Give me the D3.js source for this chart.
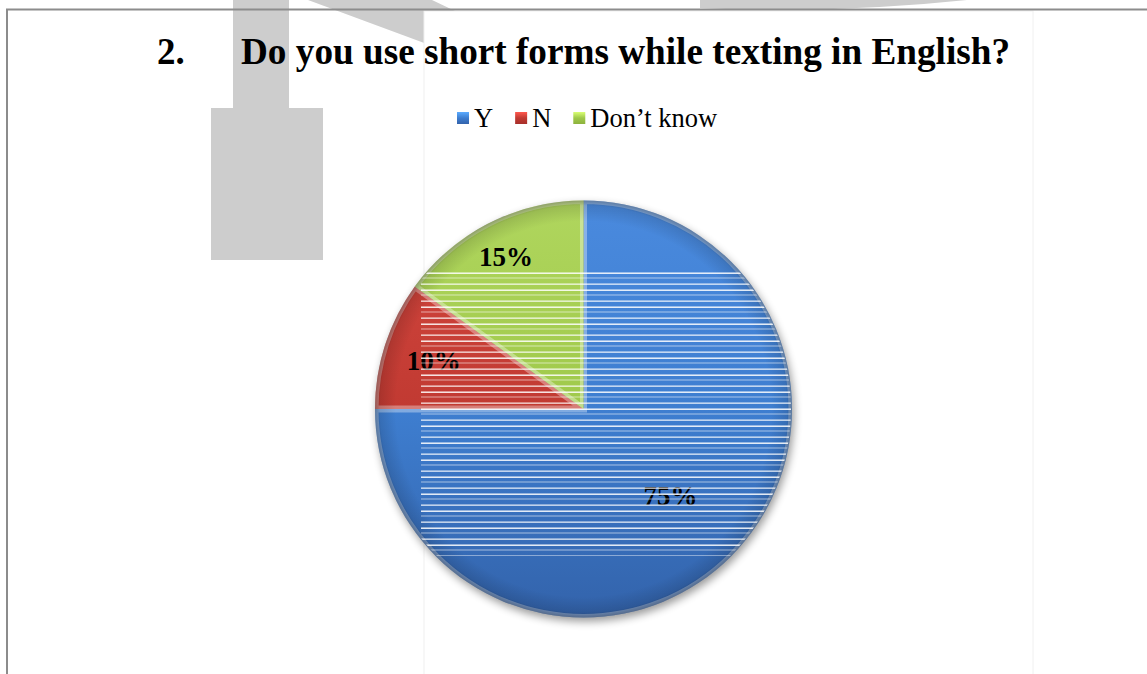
<!DOCTYPE html>
<html>
<head>
<meta charset="utf-8">
<script src="https://cdn.jsdelivr.net/npm/d3@7"></script>
<style>
  html, body { margin: 0; padding: 0; background: #ffffff; }
  svg { display: block; }
</style>
</head>
<body>
<svg id="chart" width="1147" height="674"></svg>
<script>
// Survey question and answers
const questionNumber = "2.";
const questionText = "Do you use short forms while texting in English?";
const categories = ["Y", "N", "Don’t know"];
const values = [75, 10, 15];
const valueLabels = ["75%", "10%", "15%"];

// Slice colours: base, lighter top, darker bottom
const baseColors = ["#3e7ed0", "#c13a32", "#9fc94a"];
const topColors = ["#4a8ade", "#d4473f", "#b0d65e"];
const bottomColors = ["#3363ab", "#a72f2a", "#8db23d"];

// Radial position of each value label, as a share of the radius
const labelRadius = [0.59, 0.755, 0.82];

const W = 1147, H = 674;
const svg = d3.select("#chart");
const defs = svg.append("defs");
const serif = "'Liberation Serif', 'Times New Roman', Times, serif";

// ---- grey logo shapes printed behind the page ----
const logo = svg.append("g").attr("fill", "#cdcdcd");
logo.append("rect").attr("x", 233).attr("y", 0).attr("width", 56).attr("height", 108);
logo.append("rect").attr("x", 211).attr("y", 108).attr("width", 112).attr("height", 152);
logo.append("path").attr("d", "M308,0 L432,0 L600,80 L524,80 Z");
logo.append("path").attr("d", "M700,0 L700,8 Q835,14 967,0 Z");

// chart picture area (white, faint frame)
svg.append("rect")
  .attr("x", 424).attr("y", 11).attr("width", 609).attr("height", 680)
  .attr("fill", "#ffffff").attr("stroke", "#f0f0f0").attr("stroke-width", 1);

// page frame lines
svg.append("line").attr("x1", 6).attr("x2", W).attr("y1", 9.5).attr("y2", 9.5)
  .attr("stroke", "#8c8c8c").attr("stroke-width", 2);
svg.append("line").attr("x1", 7).attr("x2", 7).attr("y1", 9).attr("y2", H)
  .attr("stroke", "#8c8c8c").attr("stroke-width", 2);

// ---- title ----
svg.append("text")
  .attr("x", 157).attr("y", 64)
  .attr("font-family", serif).attr("font-weight", "bold").attr("font-size", 37)
  .attr("fill", "#000").text(questionNumber);
svg.append("text")
  .attr("x", 241).attr("y", 64)
  .attr("font-family", serif).attr("font-weight", "bold").attr("font-size", 37)
  .attr("textLength", 769).attr("lengthAdjust", "spacingAndGlyphs")
  .attr("fill", "#000").text(questionText);

// ---- pie geometry ----
const cx = 583.5, cy = 409, R = 208.5;

// slice gradients (in the pie group's own coordinates)
categories.forEach((c, i) => {
  const g = defs.append("linearGradient")
    .attr("id", "grad" + i)
    .attr("gradientUnits", "userSpaceOnUse")
    .attr("x1", 0).attr("y1", -R).attr("x2", 0).attr("y2", R);
  g.append("stop").attr("offset", 0).attr("stop-color", topColors[i]);
  g.append("stop").attr("offset", 0.5).attr("stop-color", baseColors[i]);
  g.append("stop").attr("offset", 1).attr("stop-color", bottomColors[i]);

  const lg = defs.append("linearGradient")
    .attr("id", "lgrad" + i)
    .attr("x1", 0).attr("y1", 0).attr("x2", 0).attr("y2", 1);
  lg.append("stop").attr("offset", 0).attr("stop-color", d3.color(topColors[i]).brighter(0.6));
  lg.append("stop").attr("offset", 0.5).attr("stop-color", baseColors[i]);
  lg.append("stop").attr("offset", 1).attr("stop-color", bottomColors[i]);
});

const rim = defs.append("radialGradient")
  .attr("id", "rim").attr("gradientUnits", "userSpaceOnUse")
  .attr("cx", 0).attr("cy", 0).attr("r", R);
rim.append("stop").attr("offset", 0.9).attr("stop-color", "#000").attr("stop-opacity", 0);
rim.append("stop").attr("offset", 0.975).attr("stop-color", "#000").attr("stop-opacity", 0.12);
rim.append("stop").attr("offset", 1).attr("stop-color", "#000").attr("stop-opacity", 0.3);

const shadow = defs.append("filter").attr("id", "shadow")
  .attr("x", "-20%").attr("y", "-20%").attr("width", "140%").attr("height", "140%");
shadow.append("feGaussianBlur").attr("in", "SourceAlpha").attr("stdDeviation", 4).attr("result", "b");
shadow.append("feOffset").attr("in", "b").attr("dx", 2).attr("dy", 4).attr("result", "o");
shadow.append("feComponentTransfer").attr("in", "o")
  .append("feFuncA").attr("type", "linear").attr("slope", 0.4);

// ---- pie ----
const pie = d3.pie().sort(null).value(d => d)
  .startAngle(0).endAngle(2 * Math.PI);
const arcs = pie(values);
const arc = d3.arc().innerRadius(0).outerRadius(R);

const pg = svg.append("g").attr("transform", `translate(${cx},${cy})`);

pg.append("circle").attr("r", R).attr("fill", "#000").attr("filter", "url(#shadow)");

arcs.forEach((a, i) => {
  defs.append("clipPath").attr("id", "clip" + i)
    .append("path").attr("d", arc(a));
});

const slices = pg.selectAll("g.slice").data(arcs).join("g").attr("class", "slice");

slices.append("path")
  .attr("d", arc)
  .attr("fill", (d, i) => `url(#grad${i})`);

// inner bevel highlight along each slice edge
slices.append("path")
  .attr("d", arc)
  .attr("fill", "none")
  .attr("stroke", "#ffffff")
  .attr("stroke-opacity", 0.35)
  .attr("stroke-width", 7)
  .attr("clip-path", (d, i) => `url(#clip${i})`);

// darker outer rim
pg.append("circle").attr("r", R).attr("fill", "url(#rim)");

// ---- value labels ----
const labelG = pg.append("g");
arcs.forEach((a, i) => {
  const la = d3.arc().innerRadius(0).outerRadius(R * labelRadius[i] * 2);
  const [x, y] = la.centroid(a);
  labelG.append("text")
    .attr("x", x).attr("y", y)
    .attr("text-anchor", "middle")
    .attr("dy", "0.35em")
    .attr("font-family", serif).attr("font-weight", "bold").attr("font-size", 27)
    .attr("fill", "#000")
    .text(valueLabels[i]);
});

// ---- horizontal banding across the picture ----
const band = defs.append("pattern").attr("id", "bands")
  .attr("patternUnits", "userSpaceOnUse")
  .attr("x", 0).attr("y", 272 - cy).attr("width", 20).attr("height", 17);
[[0.5, 0.95, 1.4], [5.5, 0.55, 1], [11.5, 0.85, 1.3]].forEach(([y, op, w]) => {
  band.append("rect").attr("x", 0).attr("y", y).attr("width", 20).attr("height", w)
    .attr("fill", "#ffffff").attr("fill-opacity", op);
});
defs.append("clipPath").attr("id", "pieClip")
  .append("circle").attr("r", R - 1);
pg.append("rect")
  .attr("x", 421 - cx).attr("y", 272 - cy)
  .attr("width", R + cx - 421).attr("height", 556 - 272)
  .attr("fill", "url(#bands)")
  .attr("clip-path", "url(#pieClip)");

// ---- legend ----
const legend = svg.append("g").attr("transform", "translate(457,0)");
let lx = 0;
categories.forEach((c, i) => {
  const item = legend.append("g").attr("transform", `translate(${lx},0)`);
  item.append("rect").attr("x", 0).attr("y", 112).attr("width", 12).attr("height", 12)
    .attr("fill", `url(#lgrad${i})`);
  const t = item.append("text")
    .attr("x", 17).attr("y", 127)
    .attr("font-family", serif).attr("font-size", 26.5).attr("fill", "#000")
    .text(c);
  lx += 17 + t.node().getComputedTextLength() + 22;
});
</script>
</body>
</html>
